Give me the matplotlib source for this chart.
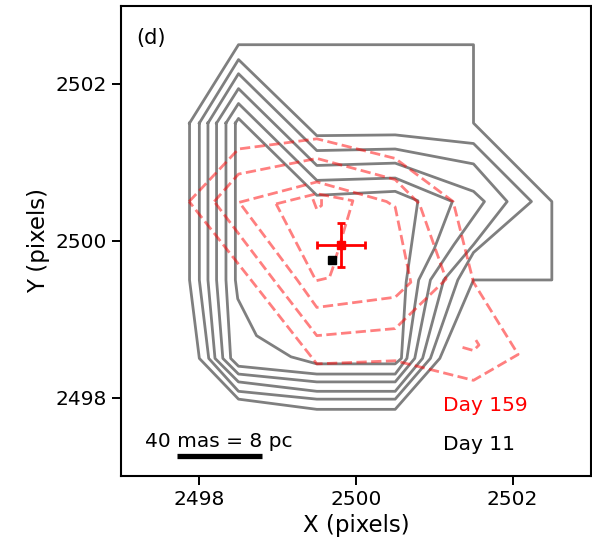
import matplotlib
matplotlib.use("Agg")
import matplotlib.pyplot as plt

# ---- data: contour paths (image pixel coordinates) ----
gray_contours = [
    ([2497.875, 2498.5, 2501.5, 2501.5, 2502.5, 2502.5, 2501.5, 2501.07, 2500.5, 2499.5, 2498.5, 2498.0, 2497.875, 2497.875],
     [2501.5, 2502.5, 2502.5, 2501.5, 2500.5, 2499.5, 2499.5, 2498.5, 2497.85, 2497.85, 2497.98, 2498.5, 2499.5, 2501.5]),
    ([2498.0, 2498.5, 2499.5, 2500.5, 2501.5, 2502.24, 2501.5, 2501.3, 2500.95, 2500.5, 2499.5, 2498.5, 2498.12, 2498.0, 2498.0],
     [2501.5, 2502.31, 2501.34, 2501.35, 2501.24, 2500.5, 2499.85, 2499.5, 2498.5, 2497.98, 2497.98, 2498.08, 2498.5, 2499.5, 2501.5]),
    ([2498.11, 2498.5, 2499.5, 2500.5, 2501.5, 2501.93, 2501.5, 2501.12, 2500.85, 2500.5, 2499.5, 2498.5, 2498.2, 2498.11, 2498.11],
     [2501.5, 2502.13, 2501.15, 2501.17, 2500.98, 2500.5, 2499.95, 2499.5, 2498.5, 2498.08, 2498.08, 2498.2, 2498.5, 2499.5, 2501.5]),
    ([2498.22, 2498.5, 2499.5, 2500.5, 2501.5, 2501.64, 2501.25, 2500.95, 2500.75, 2500.5, 2499.5, 2498.5, 2498.3, 2498.22, 2498.22],
     [2501.5, 2501.94, 2500.96, 2500.99, 2500.63, 2500.5, 2499.95, 2499.5, 2498.5, 2498.2, 2498.2, 2498.3, 2498.5, 2499.5, 2501.5]),
    ([2498.34, 2498.5, 2499.5, 2500.5, 2501.23, 2501.0, 2500.8, 2500.65, 2500.5, 2499.5, 2498.5, 2498.4, 2498.34, 2498.34],
     [2501.5, 2501.75, 2500.77, 2500.8, 2500.5, 2499.9, 2499.5, 2498.5, 2498.3, 2498.3, 2498.4, 2498.5, 2499.5, 2501.5]),
    ([2498.46, 2498.5, 2499.5, 2500.5, 2500.79, 2500.64, 2500.58, 2500.5, 2499.5, 2499.17, 2498.73, 2498.49, 2498.46, 2498.46],
     [2501.5, 2501.56, 2500.58, 2500.63, 2500.51, 2499.47, 2498.5, 2498.43, 2498.43, 2498.52, 2498.79, 2499.26, 2499.5, 2501.5]),
]

red_contours = [
    ([2497.87, 2498.5, 2499.5, 2500.5, 2501.24, 2501.5, 2502.07, 2501.5, 2500.5, 2499.5, 2498.66, 2497.87],
     [2500.5, 2501.17, 2501.3, 2501.05, 2500.5, 2499.47, 2498.55, 2498.22, 2498.47, 2498.43, 2499.5, 2500.5]),
    ([2498.19, 2498.5, 2499.5, 2500.5, 2500.81, 2501.15, 2500.5, 2499.5, 2498.95, 2498.19],
     [2500.5, 2500.85, 2501.05, 2500.78, 2500.47, 2499.51, 2498.88, 2498.79, 2499.5, 2500.5]),
    ([2498.51, 2499.5, 2500.39, 2500.5, 2500.7, 2500.5, 2499.5, 2499.25, 2498.51],
     [2500.49, 2500.75, 2500.5, 2500.43, 2499.47, 2499.28, 2499.15, 2499.5, 2500.49]),
    ([2498.98, 2499.5, 2499.96, 2499.7, 2499.66, 2499.49, 2498.98],
     [2500.47, 2500.6, 2500.51, 2499.64, 2499.53, 2499.49, 2500.47]),
    ([2499.45, 2499.5, 2499.56, 2499.56],
     [2500.53, 2500.4, 2500.45, 2500.53]),
    ([2501.36, 2501.5, 2501.57, 2501.52],
     [2498.64, 2498.6, 2498.67, 2498.75]),
]

star_x, star_y, star_xerr, star_yerr = 2499.81, 2499.94, 0.31, 0.28
ref_x, ref_y = 2499.69, 2499.76

fig = plt.figure(figsize=(5.92, 5.56), dpi=100)
ax = fig.add_axes([121/592, 1 - 476/556, 470/592, 470.5/556])

for xs, ys in gray_contours:
    ax.plot(xs, ys, color='black', alpha=0.5, lw=2.0, solid_joinstyle='round')
for xs, ys in red_contours:
    ax.plot(xs, ys, color='red', alpha=0.5, lw=2.0, ls='--')

ax.plot([ref_x], [ref_y], marker='s', color='black', ms=6, ls='none')
ax.errorbar([star_x], [star_y], xerr=[star_xerr], yerr=[star_yerr], fmt='s', color='red',
            ms=6, elinewidth=2, capsize=3, capthick=2)

ax.plot([2497.72, 2498.8], [2497.26, 2497.26], color='black', lw=3.8, solid_capstyle='butt')
ax.text(2497.3, 2497.44, '40 mas = 8 pc', fontsize=14.5, va='center', ha='left')
ax.text(2501.11, 2497.9, 'Day 159', fontsize=14.5, color='red', va='center', ha='left')
ax.text(2501.11, 2497.4, 'Day 11', fontsize=14.5, color='black', va='center', ha='left')
ax.text(2497.2, 2502.58, '(d)', fontsize=15, va='center', ha='left')

ax.set_xlim(2497, 2503)
ax.set_ylim(2497, 2503)
ax.set_xticks([2498, 2500, 2502])
ax.set_yticks([2498, 2500, 2502])
ax.tick_params(labelsize=14.5, length=6.5, width=1.4)
for s in ax.spines.values():
    s.set_linewidth(1.5)
ax.set_xlabel('X (pixels)', fontsize=16.5)
ax.set_ylabel('Y (pixels)', fontsize=16.5)

fig.savefig('out.png', dpi=100)
